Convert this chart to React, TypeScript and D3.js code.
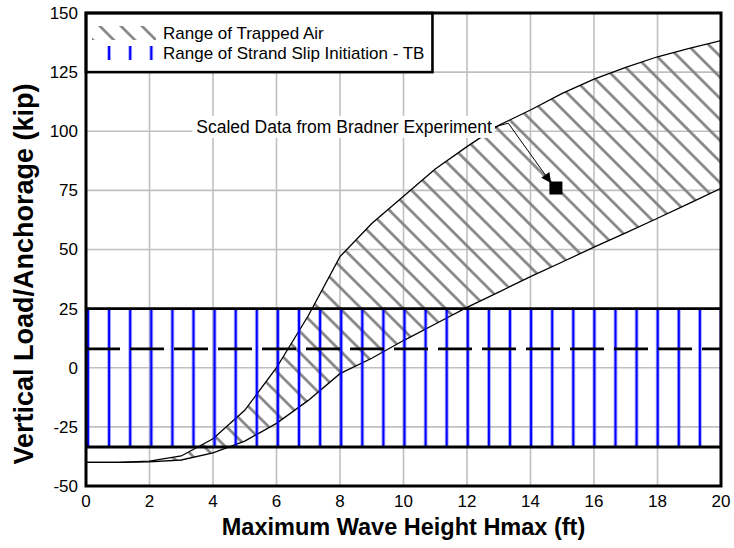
import React, { useEffect, useRef } from 'react';
import * as d3 from 'd3';

// wave height (ft) and the two bounds of the trapped-air range (kip)
const waveHeight = [0, 1, 2, 3, 4, 5, 6, 7, 8, 9, 10, 11, 12, 13, 14, 15, 16, 17, 18, 19, 20];
const upperLoad = [-40, -40, -39.5, -37.3, -30, -18, 0, 22, 47, 61, 72.5, 84, 93.5, 102.5, 109, 116, 122, 127, 131.5, 135, 138.3];
const lowerLoad = [-40, -40, -39.8, -39, -36, -31, -23.5, -13.8, -2.5, 4, 11.5, 18.5, 25.5, 32, 38.5, 44.7, 51, 57, 63.2, 69.5, 75.9];

// strand slip initiation band (kip)
const slipBand = [-33.5, 25];
const slipMean = [8];

// Bradner experiment point
const bradnerPoint = [{ x: 14.8, y: 76 }];
const annotationLabel = 'Scaled Data from Bradner Experiment';
const leaderPoints: [number, number][] = [[12.88, 101.9], [13.3, 103.4], [14.65, 78.1]];

const xTickValues = [0, 2, 4, 6, 8, 10, 12, 14, 16, 18, 20];
const yTickValues = [-50, -25, 0, 25, 50, 75, 100, 125, 150];

const legendLabels = ['Range of Trapped Air', 'Range of Strand Slip Initiation - TB'];

const W = 734;
const H = 548;
const FONT = 'Arial, "Liberation Sans", sans-serif';

export default function App() {
  const svgRef = useRef<SVGSVGElement>(null);

  useEffect(() => {
    if (!svgRef.current) return;
    const svg = d3.select(svgRef.current);
    svg.selectAll('*').remove();

    const margin = { top: 13, right: 13, bottom: 62, left: 86 };
    const x = d3.scaleLinear().domain([0, 20]).range([margin.left, W - margin.right]);
    const y = d3.scaleLinear().domain([-50, 150]).range([H - margin.bottom, margin.top]);

    const defs = svg.append('defs');
    const hatchGap = 14.9;
    const hatch = defs.append('pattern')
      .attr('id', 'hatch')
      .attr('patternUnits', 'userSpaceOnUse')
      .attr('width', hatchGap)
      .attr('height', hatchGap)
      .attr('patternTransform', 'rotate(-45)');
    hatch.append('line')
      .attr('x1', hatchGap / 2).attr('x2', hatchGap / 2)
      .attr('y1', -1).attr('y2', hatchGap + 1)
      .attr('stroke', '#808080')
      .attr('stroke-width', 2.6);

    const stripeW = (x(20) - x(0) - 2) / 30;
    const stripes = defs.append('pattern')
      .attr('id', 'stripes')
      .attr('patternUnits', 'userSpaceOnUse')
      .attr('x', x(0) + 2 - stripeW / 2)
      .attr('y', 0)
      .attr('width', stripeW)
      .attr('height', 40);
    stripes.append('line')
      .attr('x1', stripeW / 2).attr('x2', stripeW / 2)
      .attr('y1', -1).attr('y2', 41)
      .attr('stroke', '#0000ff')
      .attr('stroke-width', 2.6);

    defs.append('clipPath').attr('id', 'plotClip')
      .append('rect')
      .attr('x', x(0)).attr('y', y(150))
      .attr('width', x(20) - x(0)).attr('height', y(-50) - y(150));

    defs.append('marker')
      .attr('id', 'arrowHead')
      .attr('viewBox', '0 0 10 10')
      .attr('refX', 10).attr('refY', 5)
      .attr('markerUnits', 'userSpaceOnUse')
      .attr('markerWidth', 14).attr('markerHeight', 10)
      .attr('orient', 'auto')
      .append('path')
      .attr('d', 'M0,0 L10,5 L0,10 Z')
      .attr('fill', '#000');

    svg.append('rect').attr('width', W).attr('height', H).attr('fill', '#fff');

    // grid
    const grid = svg.append('g').attr('stroke', '#c0c0c0').attr('stroke-width', 1.6);
    grid.selectAll('line.vx').data(xTickValues).enter().append('line')
      .attr('x1', d => x(d)).attr('x2', d => x(d))
      .attr('y1', y(-50)).attr('y2', y(150));
    grid.selectAll('line.hy').data(yTickValues).enter().append('line')
      .attr('x1', x(0)).attr('x2', x(20))
      .attr('y1', d => y(d)).attr('y2', d => y(d));

    const plot = svg.append('g').attr('clip-path', 'url(#plotClip)');

    const pts = waveHeight.map((h, i) => ({ h, lo: lowerLoad[i], hi: upperLoad[i] }));
    const area = d3.area<typeof pts[0]>()
      .x(d => x(d.h)).y0(d => y(d.lo)).y1(d => y(d.hi));
    plot.append('path').datum(pts).attr('d', area).attr('fill', 'url(#hatch)');

    const upperLine = d3.line<typeof pts[0]>().x(d => x(d.h)).y(d => y(d.hi));
    const lowerLine = d3.line<typeof pts[0]>().x(d => x(d.h)).y(d => y(d.lo));
    plot.append('path').datum(pts).attr('d', upperLine)
      .attr('fill', 'none').attr('stroke', '#000').attr('stroke-width', 1.3);
    plot.append('path').datum(pts).attr('d', lowerLine)
      .attr('fill', 'none').attr('stroke', '#000').attr('stroke-width', 1.3);

    // slip band
    plot.append('rect')
      .attr('x', x(0)).attr('width', x(20) - x(0))
      .attr('y', y(slipBand[1])).attr('height', y(slipBand[0]) - y(slipBand[1]))
      .attr('fill', 'url(#stripes)');
    plot.selectAll('line.band').data(slipBand).enter().append('line')
      .attr('x1', x(0)).attr('x2', x(20))
      .attr('y1', d => y(d)).attr('y2', d => y(d))
      .attr('stroke', '#000').attr('stroke-width', 2.8);
    plot.selectAll('line.mean').data(slipMean).enter().append('line')
      .attr('x1', x(0)).attr('x2', x(20))
      .attr('y1', d => y(d)).attr('y2', d => y(d))
      .attr('stroke', '#000').attr('stroke-width', 2.6)
      .attr('stroke-dasharray', '34,10');

    // annotation
    const labelX = x(leaderPoints[0][0]) - 3;
    const labelY = y(leaderPoints[0][1]);
    const label = svg.append('text')
      .attr('x', labelX).attr('y', labelY).attr('dy', '0.35em')
      .attr('text-anchor', 'end')
      .attr('font-family', FONT).attr('font-size', 17.5)
      .attr('fill', '#000')
      .text(annotationLabel);
    const bb = (label.node() as SVGTextElement).getBBox();
    svg.insert('rect', () => label.node())
      .attr('x', bb.x - 4).attr('y', bb.y - 1)
      .attr('width', bb.width + 7).attr('height', bb.height + 2)
      .attr('fill', '#fff');
    svg.append('path')
      .datum(leaderPoints)
      .attr('d', d3.line<[number, number]>().x(d => x(d[0])).y(d => y(d[1])))
      .attr('fill', 'none').attr('stroke', '#000').attr('stroke-width', 1)
      .attr('marker-end', 'url(#arrowHead)');
    svg.selectAll('rect.pt').data(bradnerPoint).enter().append('rect')
      .attr('x', d => x(d.x) - 6.5).attr('y', d => y(d.y) - 6.5)
      .attr('width', 13).attr('height', 13).attr('fill', '#000');

    // legend
    const legend = svg.append('g');
    const legendBox = legend.append('rect')
      .attr('x', x(0)).attr('y', y(150))
      .attr('height', y(125) - y(150))
      .attr('fill', '#fff').attr('stroke', '#000').attr('stroke-width', 2.6);
    const swatchFills = ['url(#hatch)', 'url(#stripes)'];
    let textRight = 0;
    legendLabels.forEach((lab, i) => {
      const cy = y(150) + 20 + i * 20;
      legend.append('rect')
        .attr('x', x(0) + 6).attr('y', cy - 7).attr('width', 64).attr('height', 14)
        .attr('fill', swatchFills[i]);
      const t = legend.append('text')
        .attr('x', x(0) + 77).attr('y', cy).attr('dy', '0.35em')
        .attr('font-family', FONT).attr('font-size', 17)
        .text(lab);
      const tb = (t.node() as SVGTextElement).getBBox();
      textRight = Math.max(textRight, tb.x + tb.width);
    });
    legendBox.attr('width', textRight + 8 - x(0));

    // frame
    svg.append('rect')
      .attr('x', x(0)).attr('y', y(150))
      .attr('width', x(20) - x(0)).attr('height', y(-50) - y(150))
      .attr('fill', 'none').attr('stroke', '#000').attr('stroke-width', 3);

    // tick labels
    svg.selectAll('text.xt').data(xTickValues).enter().append('text')
      .attr('x', d => x(d)).attr('y', y(-50) + 15).attr('dy', '0.35em')
      .attr('text-anchor', 'middle')
      .attr('font-family', FONT).attr('font-size', 17)
      .text(d => String(d));
    svg.selectAll('text.yt').data(yTickValues).enter().append('text')
      .attr('x', x(0) - 8).attr('y', d => y(d)).attr('dy', '0.35em')
      .attr('text-anchor', 'end')
      .attr('font-family', FONT).attr('font-size', 17)
      .text(d => String(d));

    // axis titles
    svg.append('text')
      .attr('x', (x(0) + x(20)) / 2).attr('y', y(-50) + 49)
      .attr('text-anchor', 'middle')
      .attr('font-family', FONT).attr('font-size', 23.5).attr('font-weight', 'bold')
      .text('Maximum Wave Height Hmax (ft)');
    svg.append('text')
      .attr('transform', `translate(33, ${H / 2}) rotate(-90)`)
      .attr('text-anchor', 'middle')
      .attr('font-family', FONT).attr('font-size', 27).attr('font-weight', 'bold')
      .text('Vertical Load/Anchorage (kip)');
  }, []);

  return (
    <svg
      ref={svgRef}
      width={W}
      height={H}
      style={{ position: 'absolute', left: 0, top: 0, background: '#fff' }}
    />
  );
}
